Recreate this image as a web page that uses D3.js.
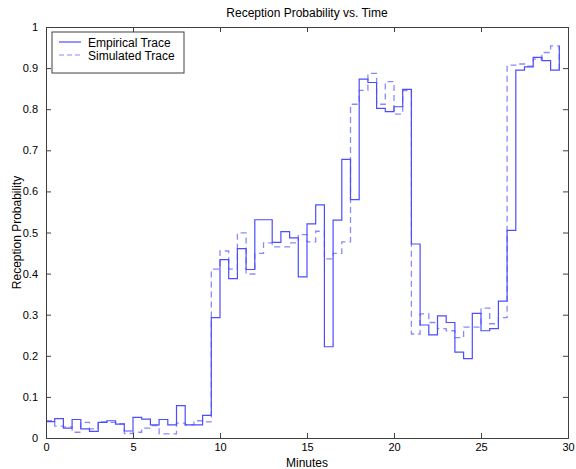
<!DOCTYPE html>
<html><head><meta charset="utf-8">
<script src="https://cdn.jsdelivr.net/npm/d3@7/dist/d3.min.js"></script>
<style>
body{margin:0;background:#fff;}
text{font-family:"Liberation Sans",Arial,Helvetica,sans-serif;fill:#000;}
</style></head>
<body><svg id="c" width="576" height="469"></svg>
<script>
const stepWidth = 0.5;
const empirical = [0.040,0.047,0.024,0.045,0.022,0.016,0.038,0.042,0.034,0.017,
  0.050,0.046,0.032,0.045,0.032,0.079,0.032,0.032,0.055,0.293,
  0.434,0.388,0.461,0.410,0.531,0.531,0.476,0.502,0.487,0.392,
  0.521,0.567,0.222,0.530,0.678,0.580,0.873,0.865,0.802,0.794,
  0.806,0.848,0.472,0.275,0.251,0.297,0.281,0.209,0.193,0.303,
  0.261,0.266,0.333,0.505,0.895,0.903,0.926,0.918,0.895,0.954];
const simulated = [0.042,0.029,0.027,0.014,0.038,0.022,0.039,0.038,0.035,0.011,
  0.014,0.024,0.030,0.010,0.010,0.036,0.032,0.042,0.039,0.411,
  0.455,0.411,0.499,0.399,0.449,0.475,0.465,0.465,0.475,0.495,
  0.477,0.503,0.436,0.449,0.477,0.812,0.846,0.887,0.812,0.867,
  0.788,0.845,0.253,0.302,0.281,0.266,0.261,0.244,0.270,0.270,
  0.316,0.278,0.293,0.907,0.910,0.905,0.922,0.938,0.954,0.895];
const xTicks = [0,5,10,15,20,25,30];
const yTicks = [0,0.1,0.2,0.3,0.4,0.5,0.6,0.7,0.8,0.9,1];
const seriesNames = ["Empirical Trace","Simulated Trace"];

const svg = d3.select("#c");
const L=46, R=568, T=27, B=438;
const x = d3.scaleLinear().domain([0,30]).range([L,R]);
const y = d3.scaleLinear().domain([0,1]).range([B,T]);
const axisColor = "#404040";

// series
const line = d3.line().x(d=>x(d[0])).y(d=>y(d[1])).curve(d3.curveStepAfter);
const toPts = arr => arr.map((v,i)=>[i*stepWidth, v]);
svg.append("path").attr("d", line(toPts(simulated))).attr("fill","none")
  .attr("stroke","#8a8aff").attr("stroke-width",1.3).attr("stroke-dasharray","6,4");
svg.append("path").attr("d", line(toPts(empirical))).attr("fill","none")
  .attr("stroke","#4d4dff").attr("stroke-width",1.2);

// axes (ticks inward)
const gB = svg.append("g").attr("transform",`translate(0,${B})`)
  .call(d3.axisBottom(x).tickValues(xTicks).tickSize(-5).tickPadding(5).tickFormat(d3.format("d")));
const gT = svg.append("g").attr("transform",`translate(0,${T})`)
  .call(d3.axisTop(x).tickValues(xTicks).tickSize(-5).tickFormat(""));
const gL = svg.append("g").attr("transform",`translate(${L},0)`)
  .call(d3.axisLeft(y).tickValues(yTicks).tickSize(-5).tickPadding(8).tickFormat(d=>d3.format("")(+d.toFixed(1))));
const gR = svg.append("g").attr("transform",`translate(${R},0)`)
  .call(d3.axisRight(y).tickValues(yTicks).tickSize(-5).tickFormat(""));
[gB,gT,gL,gR].forEach(g=>{
  g.select(".domain").attr("stroke",axisColor);
  g.selectAll(".tick line").attr("stroke",axisColor);
  g.selectAll("text").attr("font-size",11).style("font-family",'"Liberation Sans",Arial,sans-serif').attr("fill","#000");
});
gB.selectAll(".tick text").attr("dy","0.71em");

// title & labels
svg.append("text").attr("x",(L+R)/2).attr("y",17).attr("text-anchor","middle")
  .attr("font-size",12).text("Reception Probability vs. Time");
svg.append("text").attr("x",(L+R)/2).attr("y",467).attr("text-anchor","middle")
  .attr("font-size",12).text("Minutes");
svg.append("text").attr("transform",`translate(21,${(T+B)/2}) rotate(-90)`)
  .attr("text-anchor","middle").attr("font-size",12).text("Reception Probability");

// legend
const lg = svg.append("g");
lg.append("rect").attr("x",52).attr("y",32).attr("width",132).attr("height",41)
  .attr("fill","#fff").attr("stroke",axisColor).attr("stroke-width",1);
const legendItems = [
  {name:seriesNames[0], color:"#4d4dff", dash:null, yy:42},
  {name:seriesNames[1], color:"#8a8aff", dash:"5,3", yy:55}
];
legendItems.forEach(it=>{
  lg.append("line").attr("x1",59).attr("x2",81).attr("y1",it.yy).attr("y2",it.yy)
    .attr("stroke",it.color).attr("stroke-width",1.2).attr("stroke-dasharray",it.dash);
  lg.append("text").attr("x",88).attr("y",it.yy+4.5).attr("font-size",12).text(it.name);
});
</script></body></html>
